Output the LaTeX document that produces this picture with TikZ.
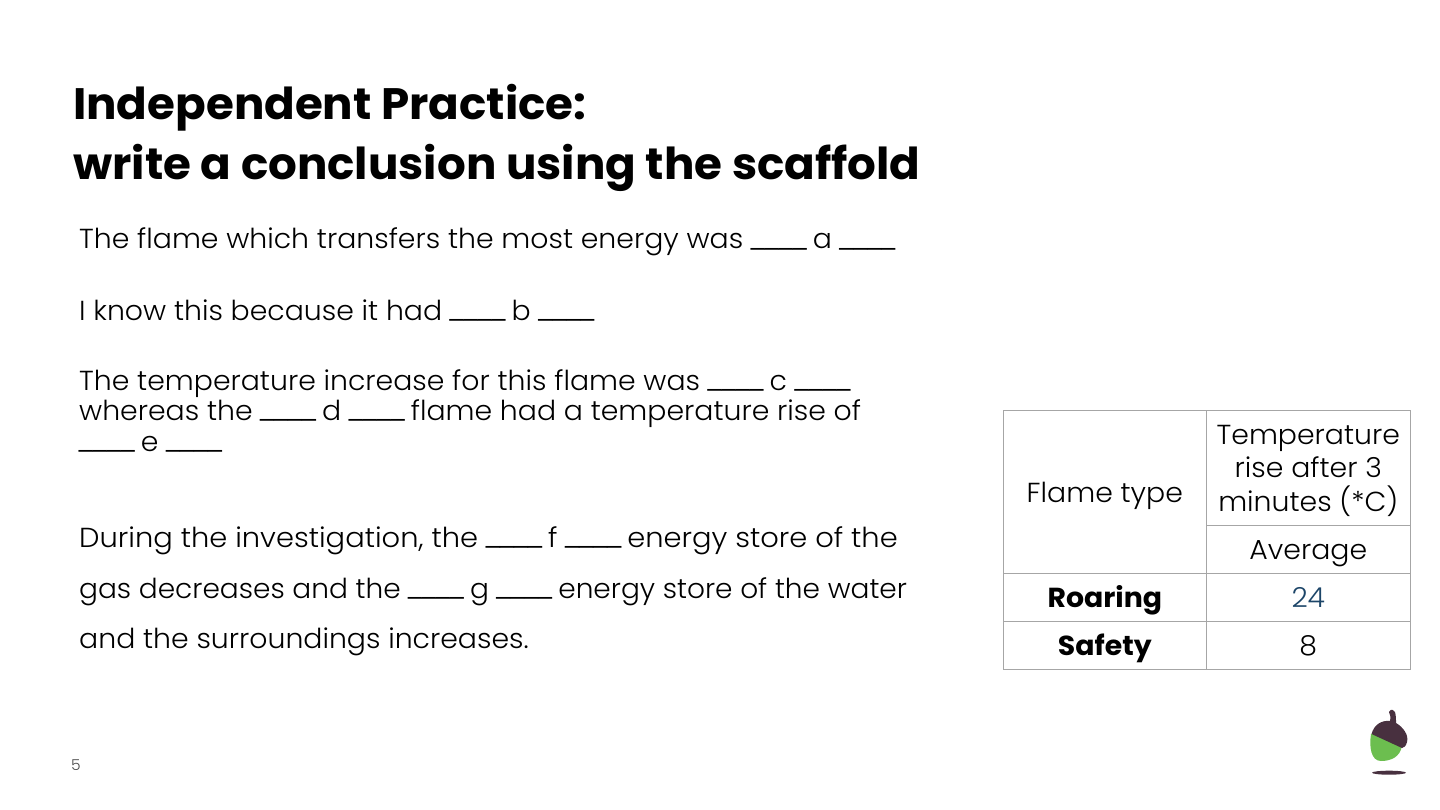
\documentclass[tikz,border=0pt]{standalone}
\usepackage{fontspec}
\setmainfont{Poppins}[UprightFont=* Light,BoldFont=* Bold,FakeStretch=1.03]
\newfontfamily\titlefont{Poppins}[UprightFont=* Bold,FakeStretch=1.027]
\usetikzlibrary{positioning}
\definecolor{inkblue}{HTML}{1C4568}
\definecolor{gridgrey}{HTML}{A6A6A6}
\definecolor{acorncap}{HTML}{48303F}
\definecolor{acorngreen}{HTML}{6CBE4F}
\tikzset{title/.style={anchor=base west,inner sep=0pt,font=\fontsize{44}{50}\selectfont\titlefont}}
\tikzset{scaffold/.style={anchor=base west,inner sep=0pt,font=\fontsize{27.5}{32}\selectfont}}
\tikzset{cell/.style={
    rectangle,draw=gridgrey,line width=1pt,outer sep=0pt,inner sep=0pt,
    align=center,minimum height=48pt,minimum width=204pt,text depth=0pt,
    font=\fontsize{27.5}{33.5}\selectfont}}
\tikzset{oneline/.style={cell,text height=20pt}}
\tikzset{namecell/.style={oneline,minimum width=203pt,font=\fontsize{27.5}{33}\selectfont\bfseries}}
\newcommand{\stub}{\makebox[14pt][l]{\_}}
\newcommand{\gap}{\hspace{-3pt}\raisebox{1.5pt}{\stub\stub\stub\stub}\hspace{1pt}}

\begin{document}
\begin{tikzpicture}[x=1pt,y=-1pt]
  \useasboundingbox (0,0) rectangle (1440,810);

  \node (titleone) [title] at (73,120) {Independent Practice:};
  \node (titletwo) [title] at (73,180) {write a conclusion using the scaffold};

  \node (lineone)   [scaffold] at (79,249) {The flame which transfers the most energy was \gap{} a \gap};
  \node (linetwo)   [scaffold] at (79,320) {I know this because it had \gap{} b \gap};
  \node (linethree) [scaffold] at (79,390) {The temperature increase for this flame was \gap{} c \gap};
  \node (linefour)  [scaffold] at (79,420) {whereas the \gap{} d \gap{} flame had a temperature rise of};
  \node (linefive)  [scaffold] at (79,451) {\gap{} e \gap};
  \node (linesix)   [scaffold] at (79,547) {\addfontfeature{FakeStretch=1.052}During the investigation, the \gap{} f \gap{} energy store of the};
  \node (lineseven) [scaffold] at (79,598) {\addfontfeature{FakeStretch=1.018}gas decreases and the \gap{} g \gap{} energy store of the water};
  \node (lineeight) [scaffold] at (79,648) {and the surroundings increases.};

  \node (flame) [oneline,minimum width=203pt,minimum height=163pt] at (1104.8,492) {Flame type};
  \node (rise) [cell,anchor=north west,minimum height=115pt] at (flame.north east) {Temperature\\rise after 3\\minutes (*C)};
  \node (average) [oneline,below=0pt of rise] {Average};
  \node (roaring) [namecell,below=0pt of flame] {Roaring};
  \node (hot) [oneline,below=0pt of average,text=inkblue] {24};
  \node (safety) [namecell,below=0pt of roaring] {Safety};
  \node (cool) [oneline,below=0pt of hot] {8};

  \node (pagenum) [anchor=base west,inner sep=0pt,font=\fontsize{15}{18}\selectfont,text=black!70] at (71,770) {5};

  % acorn
  \fill [acorngreen] (1371,734) -- (1380,733) -- (1402,746)
    .. controls (1400,757) and (1391,761) .. (1381,761)
    .. controls (1371,761) and (1369,747) .. (1371,734) -- cycle;
  \fill [acorncap] (1371.5,734) .. controls (1374,725) and (1381,720) .. (1390,721)
    .. controls (1391,717) and (1390,715) .. (1389,712)
    .. controls (1391,708) and (1394,710) .. (1395,712)
    .. controls (1396,716) and (1396,719) .. (1396,723)
    .. controls (1403,727) and (1409,735) .. (1407,742)
    .. controls (1406,746) and (1404,748) .. (1402,748) -- cycle;
  \fill [acorncap] (1389,772.7) ellipse [x radius=17,y radius=2];
\end{tikzpicture}
\end{document}
